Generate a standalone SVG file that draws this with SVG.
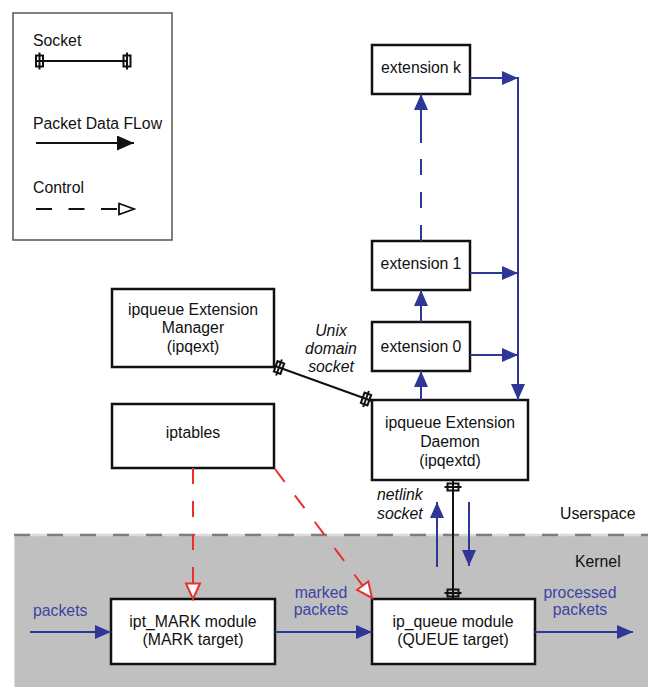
<svg xmlns="http://www.w3.org/2000/svg" width="652" height="687" viewBox="0 0 652 687">
  <style>
    text { font-family: "Liberation Sans", Arial, sans-serif; font-size: 15.8px; fill: #111; }
    .c { text-anchor: middle; }
    .it { font-style: italic; }
    .bt { fill: #3a44a4; }
    .box { fill: #fff; stroke: #111; stroke-width: 2.5; }
    .blue { stroke: #2e3798; stroke-width: 2; fill: none; }
    .blk { stroke: #111; stroke-width: 2; fill: none; }
    .red { stroke: #e8312f; stroke-width: 2; fill: none; stroke-dasharray: 16 17; }
  </style>
  <defs>
    <marker id="ab" markerUnits="userSpaceOnUse" markerWidth="16" markerHeight="14" refX="16" refY="7" orient="auto">
      <path d="M0,0 L16,7 L0,14 z" fill="#2e3798"/>
    </marker>
    <marker id="ak" markerUnits="userSpaceOnUse" markerWidth="17" markerHeight="15" refX="17" refY="7.5" orient="auto">
      <path d="M0,0 L17,7.5 L0,15 z" fill="#111"/>
    </marker>
    <marker id="ar" markerUnits="userSpaceOnUse" markerWidth="20" markerHeight="18" refX="17" refY="9" orient="auto">
      <path d="M1.5,2 L17,9 L1.5,16 z" fill="#fff" stroke="#e8312f" stroke-width="2"/>
    </marker>
    <marker id="akh" markerUnits="userSpaceOnUse" markerWidth="18" markerHeight="14" refX="16" refY="7" orient="auto">
      <path d="M1,1.5 L16,7 L1,12.5 z" fill="#fff" stroke="#111" stroke-width="1.8"/>
    </marker>
    <!-- socket end symbol, drawn for a horizontal line -->
    <g id="sock">
      <rect x="-3.5" y="-5.5" width="7" height="11" fill="none" stroke="#111" stroke-width="2"/>
      <line x1="0" y1="-8.5" x2="0" y2="8.5" stroke="#111" stroke-width="2"/>
    </g>
  </defs>

  <!-- kernel area -->
  <g id="kernel-area">
    <rect x="14" y="534" width="634" height="153" fill="#c0c0c0"/>
    <line x1="14.5" y1="536" x2="14.5" y2="687" stroke="#dadada" stroke-width="1"/>
    <line x1="14" y1="535" x2="648" y2="535" stroke="#dcdcdc" stroke-width="2.5"/>
    <line x1="14" y1="535" x2="648" y2="535" stroke="#7f7f7f" stroke-width="2.5" stroke-dasharray="16 17"/>
    <text x="560" y="519">Userspace</text>
    <text x="575" y="567">Kernel</text>
  </g>

  <!-- legend -->
  <g id="legend">
    <rect x="13" y="13" width="159" height="227" fill="#fff" stroke="#555" stroke-width="1.5"/>
    <text x="33" y="46">Socket</text>
    <line x1="37" y1="61" x2="128" y2="61" class="blk"/>
    <use href="#sock" x="39.5" y="61"/>
    <use href="#sock" x="127" y="61"/>
    <text x="33" y="129">Packet Data FLow</text>
    <line x1="36" y1="143" x2="134" y2="143" class="blk" marker-end="url(#ak)"/>
    <text x="33" y="193">Control</text>
    <line x1="36" y1="209" x2="134" y2="209" class="blk" stroke-dasharray="16 16.5" marker-end="url(#akh)"/>
  </g>

  <!-- nodes -->
  <g id="ext-k">
    <rect x="372" y="45" width="98" height="49" class="box"/>
    <text x="421" y="73" class="c">extension k</text>
  </g>
  <g id="ext-1">
    <rect x="372" y="241" width="98" height="49" class="box"/>
    <text x="421" y="269" class="c">extension 1</text>
  </g>
  <g id="ext-0">
    <rect x="372" y="322" width="98" height="49" class="box"/>
    <text x="421" y="352" class="c">extension 0</text>
  </g>
  <g id="daemon">
    <rect x="372" y="400" width="156" height="80" class="box"/>
    <text x="450" y="428" class="c">ipqueue Extension</text>
    <text x="450" y="447" class="c">Daemon</text>
    <text x="450" y="466" class="c">(ipqextd)</text>
  </g>
  <g id="manager">
    <rect x="112" y="289" width="162" height="78" class="box"/>
    <text x="193" y="315" class="c">ipqueue Extension</text>
    <text x="193" y="333" class="c">Manager</text>
    <text x="193" y="352" class="c">(ipqext)</text>
  </g>
  <g id="iptables">
    <rect x="112" y="404" width="162" height="64" class="box"/>
    <text x="193" y="438" class="c">iptables</text>
  </g>
  <g id="ipt-mark">
    <rect x="111" y="599" width="164" height="65" class="box"/>
    <text x="193" y="627" class="c">ipt_MARK module</text>
    <text x="193" y="645" class="c">(MARK target)</text>
  </g>
  <g id="ip-queue">
    <rect x="372" y="599" width="163" height="65" class="box"/>
    <text x="453" y="627" class="c">ip_queue module</text>
    <text x="453" y="645" class="c">(QUEUE target)</text>
  </g>

  <!-- connectors -->
  <g id="connectors">
    <!-- packet path through the kernel -->
    <line x1="30" y1="632" x2="111" y2="632" class="blue" marker-end="url(#ab)"/>
    <text x="33" y="616" class="bt">packets</text>
    <line x1="275" y1="632" x2="372" y2="632" class="blue" marker-end="url(#ab)"/>
    <text x="321" y="598" class="c bt">marked</text>
    <text x="321" y="615" class="c bt">packets</text>
    <line x1="535" y1="632" x2="633" y2="632" class="blue" marker-end="url(#ab)"/>
    <text x="580" y="598" class="c bt">processed</text>
    <text x="580" y="615" class="c bt">packets</text>

    <!-- extension chain -->
    <line x1="421" y1="400" x2="421" y2="371" class="blue" marker-end="url(#ab)"/>
    <line x1="421" y1="322" x2="421" y2="290" class="blue" marker-end="url(#ab)"/>
    <line x1="421" y1="241" x2="421" y2="142" class="blue" stroke-dasharray="16 17"/>
    <line x1="421" y1="143" x2="421" y2="94" class="blue" marker-end="url(#ab)"/>

    <!-- return bus to the daemon -->
    <line x1="470" y1="78" x2="518" y2="78" class="blue" marker-end="url(#ab)"/>
    <line x1="470" y1="273" x2="518" y2="273" class="blue" marker-end="url(#ab)"/>
    <line x1="470" y1="355" x2="518" y2="355" class="blue" marker-end="url(#ab)"/>
    <line x1="518" y1="77" x2="518" y2="400" class="blue" marker-end="url(#ab)"/>

    <!-- unix domain socket -->
    <line x1="275" y1="366" x2="372" y2="401" class="blk"/>
    <use href="#sock" transform="translate(279,367.5) rotate(19.8)"/>
    <use href="#sock" transform="translate(366,399) rotate(19.8)"/>
    <text x="331" y="336" class="c it">Unix</text>
    <text x="331" y="354" class="c it">domain</text>
    <text x="331" y="372" class="c it">socket</text>

    <!-- netlink socket -->
    <line x1="453" y1="480" x2="453" y2="599" class="blk"/>
    <use href="#sock" transform="translate(453,487) rotate(90)"/>
    <use href="#sock" transform="translate(453,593) rotate(90)"/>
    <line x1="437" y1="567" x2="437" y2="502" class="blue" marker-end="url(#ab)"/>
    <line x1="469" y1="502" x2="469" y2="566" class="blue" marker-end="url(#ab)"/>
    <text x="377" y="500" class="it">netlink</text>
    <text x="377" y="519" class="it">socket</text>

    <!-- control from iptables -->
    <line x1="193" y1="468" x2="193" y2="599" class="red" marker-end="url(#ar)"/>
    <line x1="275" y1="469" x2="372" y2="598" class="red" marker-end="url(#ar)"/>
  </g>
</svg>
